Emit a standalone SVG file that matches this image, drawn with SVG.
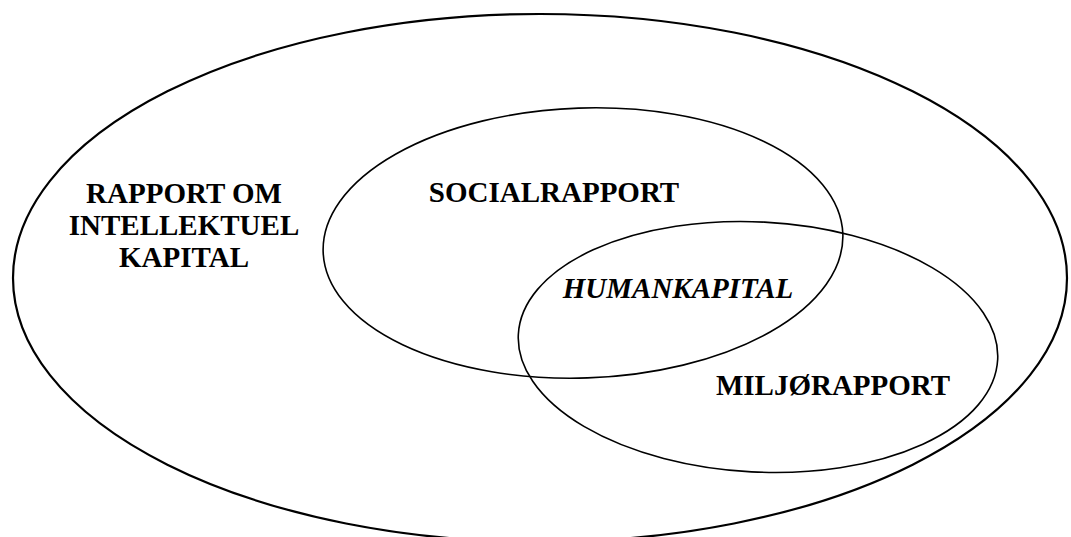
<svg xmlns="http://www.w3.org/2000/svg" width="1071" height="537" viewBox="0 0 1071 537">
  <style>
    .set { fill: none; stroke: #000; }
    .outer { stroke-width: 2.2; }
    .inner { stroke-width: 1.6; }
    .label { font-family: "Liberation Serif", "Times New Roman", serif; font-size: 29px; font-weight: bold; fill: #000; text-anchor: middle; }
    .it { font-style: italic; }
  </style>
  <rect width="1071" height="537" fill="#fff"/>
  <g id="intellektuel-kapital">
    <ellipse class="set outer" cx="540" cy="278" rx="527" ry="264"/>
    <text class="label" x="184" y="203">RAPPORT OM</text>
    <text class="label" x="184" y="235">INTELLEKTUEL</text>
    <text class="label" x="184" y="267">KAPITAL</text>
  </g>
  <g id="socialrapport">
    <ellipse class="set inner" cx="583" cy="243" rx="260" ry="135" transform="rotate(-2 583 243)"/>
    <text class="label" x="554" y="202">SOCIALRAPPORT</text>
  </g>
  <g id="miljoerapport">
    <ellipse class="set inner" cx="758" cy="347" rx="240" ry="125" transform="rotate(3 758 347)"/>
    <text class="label" x="833" y="395">MILJØRAPPORT</text>
  </g>
  <g id="humankapital">
    <text class="label it" x="678" y="298">HUMANKAPITAL</text>
  </g>
  <g id="connectors"/>
</svg>
